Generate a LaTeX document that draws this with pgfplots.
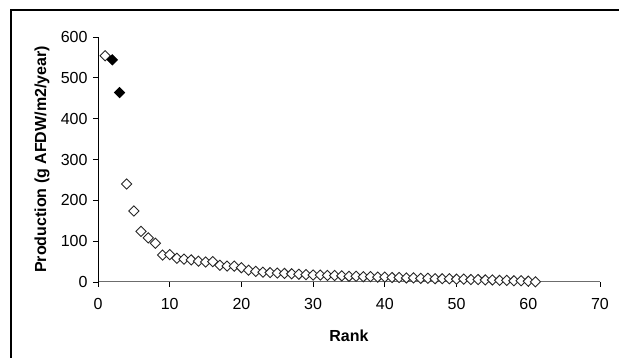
\documentclass[border=0pt]{standalone}
\usepackage{fontspec}
\setmainfont{Liberation Sans}
\usepackage{pgfplots}
\pgfplotsset{compat=1.18}
\begin{document}
\begin{tikzpicture}
\useasboundingbox (0pt,0pt) rectangle (619pt,358pt);
\draw[line width=1.3pt] (11pt,348pt) rectangle (640pt,-20pt);
\begin{axis}[
  at={(98pt,76pt)}, anchor=south west,
  scale only axis, width=502pt, height=245pt,
  xmin=0, xmax=70, ymin=0, ymax=600,
  axis x line*=bottom, axis y line*=left,
  x axis line style={draw=gray!85!black, line width=1pt},
  y axis line style={draw=black, line width=0.8pt},
  tick align=outside, major tick length=5pt,
  xtick={0,10,...,70}, ytick={0,100,...,600},
  tick style={black, line width=0.8pt},
  ticklabel style={font=\fontsize{16}{19}\selectfont},
  /pgf/number format/assume math mode=true,
  xticklabel style={yshift=-8pt},
  yticklabel style={xshift=-2pt},
  xlabel={Rank}, ylabel={Production (g AFDW/m2/year)},
  label style={font=\bfseries\fontsize{16}{19}\selectfont},
  xlabel style={at={(axis description cs:0.5,-0.2204)}, anchor=center},
  ylabel style={at={(axis description cs:-0.1116,0.5)}, anchor=center},
  clip=false,
]
\addplot[only marks, mark=square*, mark size=3.6pt,
  mark options={rotate=45, fill=white, draw=black!85, line width=0.9pt}]
  coordinates {
  (1,554) (4,240) (5,174) (6,124) (7,108) (8,95) (9,66) (10,67)
  (11,58) (12,56) (13,54) (14,51) (15,49) (16,50) (17,41) (18,39)
  (19,39) (20,35) (21,29) (22,26) (23,24) (24,23) (25,22) (26,21)
  (27,20) (28,19) (29,18) (30,17) (31,17) (32,16) (33,16) (34,15)
  (35,14) (36,14) (37,13) (38,13) (39,12) (40,12) (41,11) (42,11)
  (43,10) (44,10) (45,9) (46,9) (47,8) (48,8) (49,8) (50,7)
  (51,7) (52,6) (53,6) (54,5) (55,5) (56,4) (57,4) (58,3)
  (59,3) (60,2) (61,0.5)
  };
\addplot[only marks, mark=square*, mark size=3.6pt,
  mark options={rotate=45, fill=black, draw=black, line width=0.9pt}]
  coordinates {(2,544) (3,464)};
\end{axis}
\end{tikzpicture}
\end{document}
